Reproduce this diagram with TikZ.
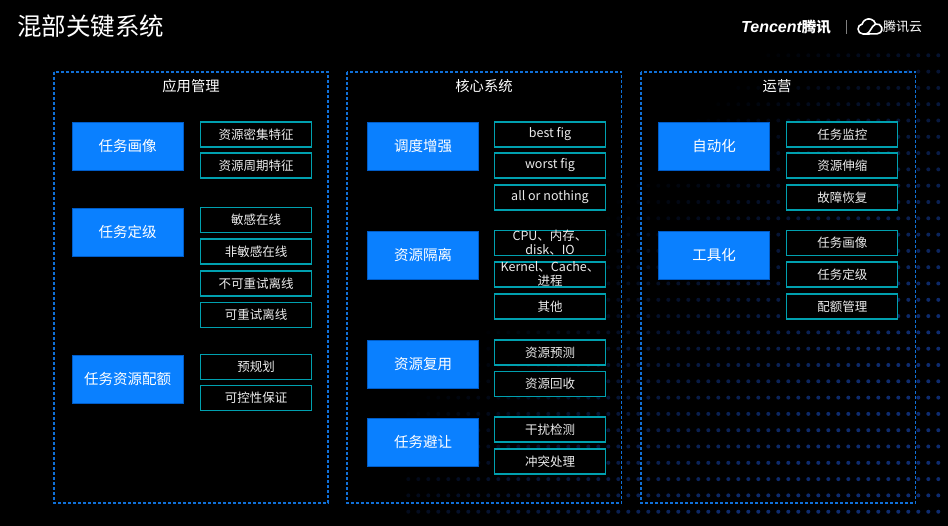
\documentclass[tikz,border=0pt]{standalone}
\usepackage{fontspec}
\setmainfont{Noto Sans CJK SC}
\newfontfamily\logofont{Liberation Sans}
\definecolor{panelblue}{RGB}{16,112,216}
\definecolor{boxblue}{RGB}{10,128,255}
\definecolor{boxedge}{RGB}{0,92,200}
\definecolor{tagteal}{RGB}{0,160,175}
\definecolor{dotblue}{RGB}{18,56,140}
\definecolor{txtgray}{RGB}{236,236,236}
\tikzset{
  panel/.style={draw=panelblue, line width=1.2pt, dash pattern=on 3pt off 2pt},
  heading/.style={text=white, font=\fontsize{14.3}{17}\selectfont},
  block/.style={fill=boxblue, draw=boxedge, line width=0.6pt, minimum width=111pt,
    minimum height=48pt, inner sep=0pt, text=white, font=\fontsize{14.5}{17}\selectfont},
  item/.style={fill=black, draw=tagteal, line width=1.1pt, minimum width=111pt,
    minimum height=25pt, inner sep=0pt, align=center, text=txtgray,
    font=\fontsize{12.5}{14}\selectfont}
}
\begin{document}
\begin{tikzpicture}[x=1pt,y=-1pt]
	\useasboundingbox (0,0) rectangle (948,526);
	\fill[black] (0,0) rectangle (948,526);
	% Dotted backdrop, fading towards the upper left
	\foreach \i in {0,...,53} {
		\foreach \j in {0,...,28} {
			\pgfmathsetmacro{\dx}{408.3+10*\i}
			\pgfmathsetmacro{\dy}{511.7-16.3*\j}
			\pgfmathsetmacro{\dop}{0.8*max(0,min(1,(\dx-450)/450+(\dy-80)/450-0.6))}
			\ifdim\dop pt>0.03pt \fill[dotblue, opacity=\dop] (\dx,\dy) circle[radius=2]; \fi
		}
	}
	% Page title and logo
	\node[anchor=west, inner sep=0pt, text=white, font=\fontsize{24.5}{28}\selectfont] (title) at (17,26) {混部关键系统};
	\node[anchor=west, inner sep=0pt, text=white] (logo) at (741,27) {{\logofont\fontsize{16}{18}\selectfont\bfseries\itshape Tencent}{\fontsize{14.5}{17}\selectfont\bfseries 腾讯}};
	\draw[gray, line width=0.8pt] (846,20) -- (846,34);
	\begin{scope}[shift={(870,27)}, y=1pt]
		\draw[white, line width=1.6pt, line join=round] (-7,-7) arc[start angle=270, end angle=100, radius=5] arc[start angle=165, end angle=15, radius=7] arc[start angle=105, end angle=-90, radius=5] -- cycle;
		\draw[white, line width=1.6pt, line cap=round] (-4,-7) .. controls (0,-7) and (1,1) .. (5.6,2.9);
	\end{scope}
	\node[anchor=west, inner sep=0pt, text=white, font=\fontsize{13}{15}\selectfont] (cloud) at (883,27) {腾讯云};
	% Panel 1: application management
	\draw[panel] (54,72) rectangle (328,503);
	\node[heading] (appmgmt) at (191,86) {应用管理};
	\foreach \n/\y/\t in {portrait/146.3/任务画像, level/232/任务定级, quota/379/任务资源配额}
		\node[block] (\n) at (127.5,\y) {\t};
	\foreach \n/\y/\t in {a1/134.5/资源密集特征, a2/165.5/资源周期特征, a3/220/敏感在线, a4/251.5/非敏感在线,
		a5/283.5/不可重试离线, a6/315/可重试离线, a7/367/预规划, a8/398/可控性保证}
		\node[item] (\n) at (256,\y) {\t};
	% Panel 2: core system
	\draw[panel] (347,72) rectangle (621.5,503);
	\node[heading] (core) at (484,86) {核心系统};
	\foreach \n/\y/\t in {sched/146.3/调度增强, isolate/255/资源隔离, reuse/364/资源复用, avoid/442/任务避让}
		\node[block] (\n) at (423,\y) {\t};
	\foreach \n/\y/\t in {b1/134.5/best fig, b2/165.5/worst fig, b3/197.5/all or nothing,
		b4/243/{CPU、内存、\\disk、IO}, b5/274.5/{Kernel、Cache、\\进程}, b6/306.5/其他,
		b7/352.5/资源预测, b8/384/资源回收, b9/429.5/干扰检测, b10/461.5/冲突处理}
		\node[item] (\n) at (550,\y) {\t};
	% Panel 3: operations
	\draw[panel] (641,72) rectangle (915.5,503);
	\node[heading] (ops) at (777,86) {运营};
	\foreach \n/\y/\t in {auto/146.3/自动化, tools/255/工具化}
		\node[block] (\n) at (714,\y) {\t};
	\foreach \n/\y/\t in {c1/134.5/任务监控, c2/165.5/资源伸缩, c3/197.5/故障恢复,
		c4/243/任务画像, c5/274.5/任务定级, c6/306.5/配额管理}
		\node[item] (\n) at (842.3,\y) {\t};
\end{tikzpicture}
\end{document}
